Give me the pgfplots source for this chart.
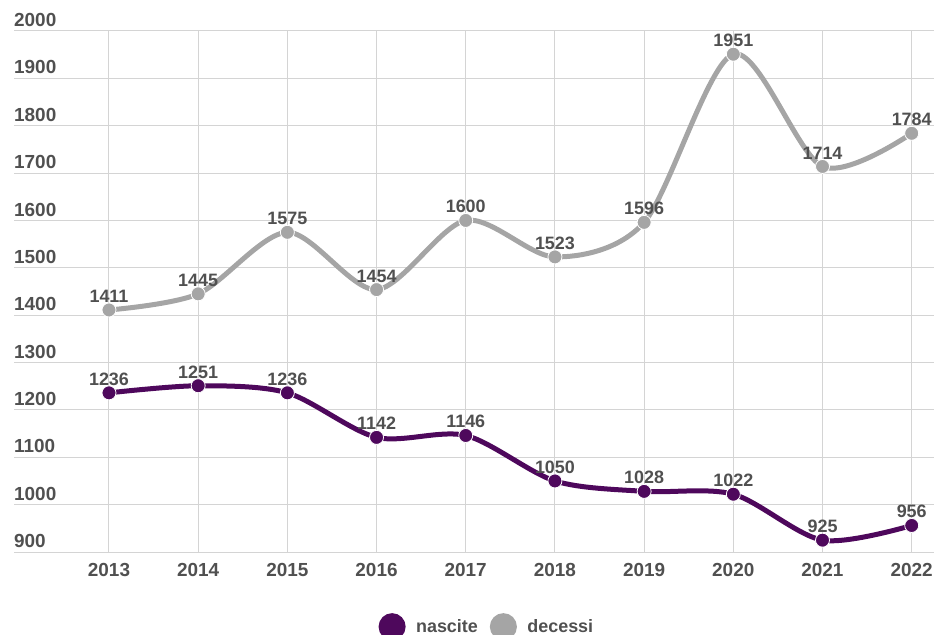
\documentclass[border=0pt]{standalone}
\usepackage{fontspec}
\setmainfont{Liberation Sans}
\usepackage{pgfplots}
\pgfplotsset{compat=1.18}
\definecolor{purp}{RGB}{78,8,92}
\definecolor{gline}{RGB}{165,165,165}
\definecolor{txt}{RGB}{80,80,80}
\definecolor{gridc}{RGB}{212,212,212}
\begin{document}
\begin{tikzpicture}
\path[use as bounding box] (-14bp,-83bp) rectangle (920bp,552bp);
\begin{axis}[
  scale only axis, width=920bp, height=521bp,
  at={(0,0)}, anchor=south west,
  xmin=2011.935, xmax=2022.25, ymin=900, ymax=2000,
  clip=false,
  axis line style={draw=none},
  major tick length=0pt,
  grid=major, major grid style={draw=gridc, line width=1bp},
  xtick={2013,...,2022},
  ytick={900,1000,...,2000},
  /pgf/number format/1000 sep={},
  /pgf/number format/assume math mode=true,
  tick label style={font=\fontsize{19}{19}\selectfont\bfseries, text=txt},
  xticklabel style={anchor=north, inner sep=0pt, yshift=-11bp},
  yticklabel style={anchor=south west, inner sep=0pt, yshift=4bp},
  nodes near coords,
  every node near coord/.append style={font=\fontsize{18}{18}\selectfont\bfseries, text=txt, anchor=south, inner sep=0pt, yshift=7bp},
  legend columns=2,
  legend style={draw=none, fill=none, at={(0.514,-0.1434)}, anchor=center,
    font=\fontsize{18}{18}\selectfont\bfseries, text=txt,
    /tikz/every even column/.append style={column sep=10bp}},
  legend image code/.code={\fill[#1] (11bp,0bp) circle (11bp); \path[draw=none,fill=none] (0bp,0bp) rectangle (33bp,1bp);},
]
\addplot[purp, line width=5bp, smooth, tension=0.5, mark=*, mark size=7bp,
  mark options={fill=purp, draw=white, line width=0.8bp}] coordinates {
  (2013,1236) (2014,1251) (2015,1236) (2016,1142) (2017,1146)
  (2018,1050) (2019,1028) (2020,1022) (2021,925) (2022,956)};
\addlegendentry{nascite}
\addplot[gline, line width=5bp, smooth, tension=0.5, mark=*, mark size=7bp,
  mark options={fill=gline, draw=white, line width=0.8bp}] coordinates {
  (2013,1411) (2014,1445) (2015,1575) (2016,1454) (2017,1600)
  (2018,1523) (2019,1596) (2020,1951) (2021,1714) (2022,1784)};
\addlegendentry{decessi}
\end{axis}
\end{tikzpicture}
\end{document}
